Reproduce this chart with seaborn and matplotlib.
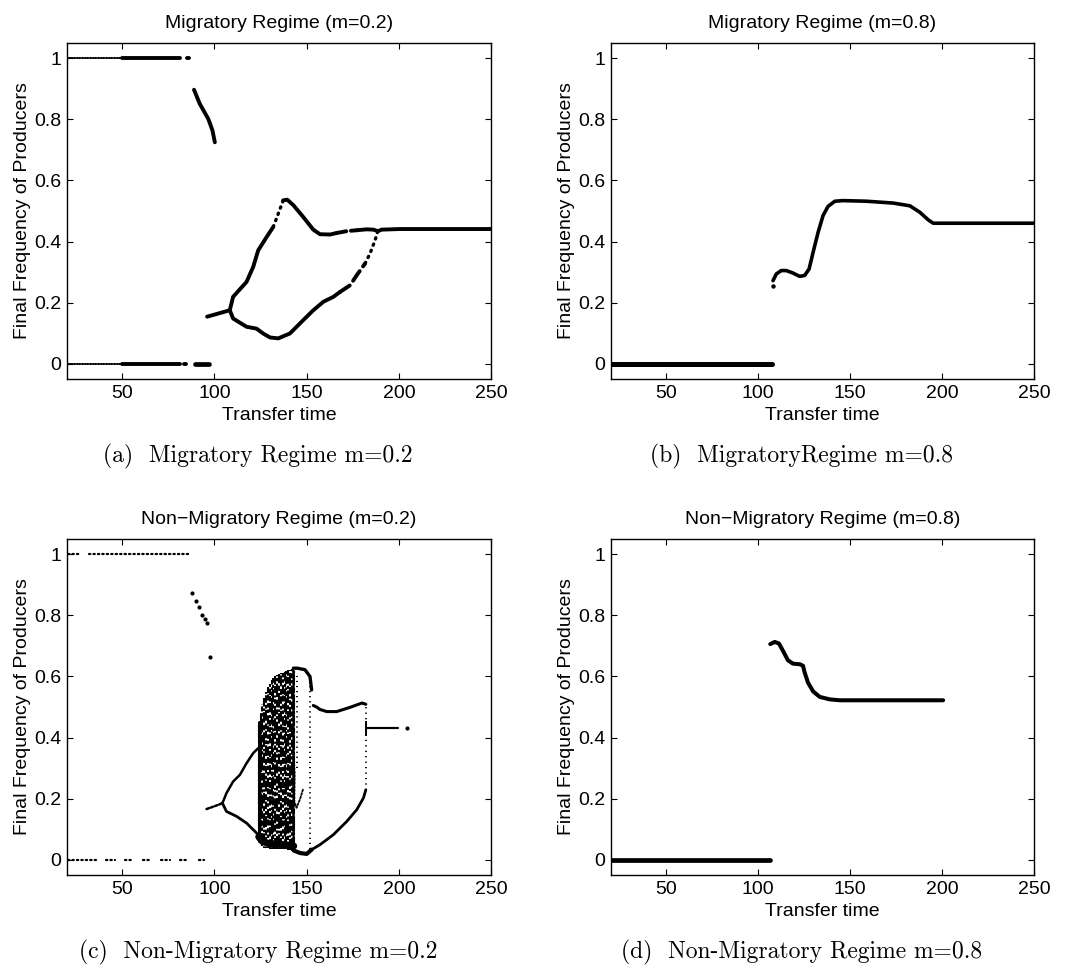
import matplotlib
matplotlib.use("Agg")
import matplotlib.pyplot as plt
import seaborn as sns

# ---------------- (a) Migratory regime, m = 0.2 ----------------
a_one_thin_x = [20, 50]
a_one_x = [50, 81.2]
a_one_tail_x = [85.2, 86.2]
a_zero_thin_x = [20, 50]
a_zero_x = [50, 81.2]
a_zero_dot_x = [83.6, 84.4]
a_zero_tail_x = [89.3, 96.9]
a_fall_x = [88.9, 92.0, 96.6, 98.9, 100.2]
a_fall_y = [0.897, 0.851, 0.802, 0.764, 0.725]
a_stem_x = [96.0, 108.3]
a_stem_y = [0.154, 0.175]
a_up1_x = [108.3, 110.1, 117.4, 121.0, 123.7, 128.3, 131.9]
a_up1_y = [0.175, 0.219, 0.268, 0.317, 0.371, 0.415, 0.448]
a_up2_x = [131.9, 134.6, 137.3]
a_up2_y = [0.448, 0.491, 0.535]
a_up3_x = [137.3, 139.5, 142.8, 148.2, 153.6, 157.2, 162.7, 166.3]
a_up3_y = [0.535, 0.537, 0.519, 0.480, 0.439, 0.424, 0.423, 0.428]
a_up4_x = [166.3, 171.7, 177.2]
a_up4_y = [0.428, 0.434, 0.437]
a_up5_x = [177.2, 182.6, 186.2, 188.6, 190.8, 200.7, 250.0]
a_up5_y = [0.437, 0.440, 0.439, 0.434, 0.439, 0.441, 0.441]
a_low1_x = [108.3, 110.1, 117.4, 122.8, 126.4, 130.1, 134.6, 140.9, 148.2,
            153.6, 159.1, 164.5, 168.1]
a_low1_y = [0.175, 0.148, 0.121, 0.115, 0.099, 0.086, 0.083, 0.099, 0.143,
            0.175, 0.203, 0.219, 0.235]
a_low2_x = [168.1, 173.6, 177.2, 181.7]
a_low2_y = [0.235, 0.257, 0.290, 0.328]
a_low3_x = [181.7, 184.4, 187.1, 188.6]
a_low3_y = [0.328, 0.361, 0.404, 0.434]

# ---------------- (b) Migratory regime, m = 0.8 ----------------
b_zero_x = [20, 107.3]
b_dot_x = [108.1]
b_dot_y = [0.254]
b_curve_x = [108.1, 109.9, 112.6, 115.3, 118.9, 122.6, 125.3, 127.7, 129.9,
             132.6, 135.3, 138.0, 141.7, 146.2, 158.9, 173.4, 182.5, 187.9,
             192.5, 195.2, 250.0]
b_curve_y = [0.272, 0.294, 0.305, 0.305, 0.297, 0.286, 0.289, 0.310, 0.365,
             0.430, 0.485, 0.515, 0.532, 0.534, 0.532, 0.526, 0.517, 0.496,
             0.471, 0.460, 0.460]

# ---------------- (c) Non-migratory regime, m = 0.2 ----------------
c_one_runs = [(20.5, 27.8), (31.9, 86.2)]
c_zero_runs = [(20.5, 35.9), (41.3, 45.8), (51.3, 55.8), (61.2, 65.8),
               (71.2, 75.7), (81.2, 85.7), (91.5, 94.2)]
c_fall_x = [87.9, 89.9, 91.7, 93.5, 94.6, 96.0, 97.8]
c_fall_y = [0.872, 0.848, 0.827, 0.802, 0.788, 0.774, 0.663]
c_stem_x = [95.7, 100.0, 104.3]
c_stem_y = [0.166, 0.175, 0.185]
c_up_x = [104.3, 106.5, 110.1, 113.8, 117.4, 121.0, 123.7]
c_up_y = [0.185, 0.218, 0.256, 0.278, 0.316, 0.349, 0.365]
c_low_x = [104.3, 106.5, 112.0, 117.4, 121.9, 123.7]
c_low_y = [0.185, 0.158, 0.142, 0.120, 0.093, 0.082]
# chaotic band: one column of states per transfer time
c_chaos_x = [124, 125, 126, 127, 128, 129, 130, 131, 132, 133, 134, 135, 136,
             137, 138, 139, 140, 141, 142, 143]
c_chaos_lo = [0.060, 0.050, 0.045, 0.040, 0.038, 0.037, 0.036, 0.036, 0.035,
              0.035, 0.035, 0.035, 0.034, 0.034, 0.034, 0.034, 0.033, 0.032,
              0.030, 0.030]
c_chaos_hi = [0.450, 0.480, 0.510, 0.530, 0.550, 0.565, 0.578, 0.587, 0.595,
              0.600, 0.605, 0.609, 0.612, 0.615, 0.617, 0.619, 0.620, 0.622,
              0.625, 0.626]
c_edge_x = [124.0, 124.0]
c_edge_y = [0.060, 0.450]
c_floor_x = [124.0, 126.0, 130.0, 136.0, 143.0]
c_floor_y = [0.075, 0.060, 0.052, 0.050, 0.045]
c_wall_x = [142.6, 142.6]
c_wall_y = [0.035, 0.625]
c_sparse_x = [145.0, 151.6]
c_sparse_lo = [0.300, 0.035]
c_sparse_hi = [0.600, 0.600]
c_cap_x = [142.8, 145.0, 149.1, 151.8, 152.7]
c_cap_y = [0.627, 0.627, 0.622, 0.600, 0.556]
c_hook_x = [142.8, 143.5, 143.3, 144.5, 146.5, 148.0]
c_hook_y = [0.360, 0.280, 0.190, 0.170, 0.200, 0.230]
c_base_x = [143.0, 146.4, 150.0, 152.7]
c_base_y = [0.030, 0.022, 0.019, 0.033]
c_hi_x = [153.6, 155.4, 157.2, 160.9, 166.3, 173.6, 180.0, 182.1]
c_hi_y = [0.505, 0.500, 0.492, 0.485, 0.485, 0.499, 0.513, 0.509]
c_lo_x = [152.7, 157.2, 164.5, 171.7, 177.2, 180.8, 182.1]
c_lo_y = [0.033, 0.049, 0.082, 0.125, 0.164, 0.202, 0.229]
c_jump_x = 182.1
c_jump_lo, c_jump_hi = 0.229, 0.509
c_tick_lo, c_tick_hi = 0.405, 0.455
c_end_x = [182.1, 199.8]
c_end_y = [0.431, 0.431]
c_last_x = [204.7]
c_last_y = [0.431]

# ---------------- (d) Non-migratory regime, m = 0.8 ----------------
d_zero_x = [20, 106.6]
d_curve_x = [106.6, 109.0, 111.3, 113.5, 116.2, 118.9, 122.6, 124.4, 125.3,
             127.1, 129.9, 133.5, 138.9, 144.4, 200.6]
d_curve_y = [0.706, 0.713, 0.708, 0.684, 0.653, 0.642, 0.640, 0.635, 0.613,
             0.580, 0.551, 0.533, 0.525, 0.522, 0.522]

titles = ["Migratory Regime (m=0.2)", "Migratory Regime (m=0.8)",
          "Non\u2212Migratory Regime (m=0.2)", "Non\u2212Migratory Regime (m=0.8)"]
captions = ["(a)  Migratory Regime m=0.2", "(b)  MigratoryRegime m=0.8",
            "(c)  Non-Migratory Regime m=0.2", "(d)  Non-Migratory Regime m=0.8"]
x_ticks = [50, 100, 150, 200, 250]
y_ticks = [0, 0.2, 0.4, 0.6, 0.8, 1]
y_tick_labels = ["0", "0.2", "0.4", "0.6", "0.8", "1"]
x_label = "Transfer time"
y_label = "Final Frequency of Producers"

sns.set_theme(style="ticks")
plt.rcParams["font.family"] = ["Liberation Sans", "DejaVu Sans"]
plt.rcParams["xtick.direction"] = "in"
plt.rcParams["ytick.direction"] = "in"

W, H = 1066, 968
fig = plt.figure(figsize=(W / 100, H / 100), dpi=100)
fig.patch.set_facecolor("white")

boxes = [(67, 43, 491, 379), (611, 43, 1034, 379),
         (67, 539, 491, 875), (611, 539, 1034, 875)]
axes = []
for (l, t, r, b) in boxes:
    axes.append(fig.add_axes([l / W, 1 - b / H, (r - l) / W, (b - t) / H]))

FAT = 2.8


def line(ax, xs, ys, lw=FAT, ls="-"):
    sns.lineplot(x=xs, y=ys, ax=ax, color="black", linewidth=lw, linestyle=ls,
                 sort=False, estimator=None, solid_capstyle="round",
                 dash_capstyle="round", legend=False)


def dots(ax, xs, ys, size=9):
    sns.scatterplot(x=xs, y=ys, ax=ax, color="black", s=size, linewidth=0,
                    legend=False)


# (a)
ax = axes[0]
line(ax, a_one_thin_x, [1, 1], lw=1.2, ls=(0, (1, 0.6)))
line(ax, a_one_x, [1, 1])
line(ax, a_one_tail_x, [1, 1])
line(ax, a_zero_thin_x, [0, 0], lw=1.2, ls=(0, (1, 0.6)))
line(ax, a_zero_x, [0, 0])
line(ax, a_zero_dot_x, [0, 0])
line(ax, a_zero_tail_x, [0, 0], lw=3.4)
line(ax, a_fall_x, a_fall_y)
line(ax, a_stem_x, a_stem_y)
line(ax, a_up1_x, a_up1_y)
line(ax, a_up2_x, a_up2_y, lw=2.4, ls=(0, (0.4, 1.6)))
line(ax, a_up3_x, a_up3_y)
line(ax, a_up4_x, a_up4_y, ls=(0, (2.5, 1.2)))
line(ax, a_up5_x, a_up5_y)
line(ax, a_low1_x, a_low1_y)
line(ax, a_low2_x, a_low2_y, ls=(0, (3, 1.5)))
line(ax, a_low3_x, a_low3_y, lw=2.4, ls=(0, (0.4, 1.6)))

# (b)
ax = axes[1]
line(ax, b_zero_x, [0, 0], lw=3.6)
dots(ax, b_dot_x, b_dot_y, size=10)
line(ax, b_curve_x, b_curve_y, lw=2.6)

# (c)
ax = axes[2]
for x0, x1 in c_one_runs:
    line(ax, [x0, x1], [1, 1], lw=1.6, ls=(0, (0.6, 1.4)))
for x0, x1 in c_zero_runs:
    line(ax, [x0, x1], [0, 0], lw=1.6, ls=(0, (0.6, 1.4)))
dots(ax, c_fall_x, c_fall_y, size=9)
line(ax, c_stem_x, c_stem_y, lw=1.8, ls=(0, (1, 0.8)))
line(ax, c_up_x, c_up_y, lw=1.8)
line(ax, c_low_x, c_low_y, lw=2.0)

# speckled columns: each column gets its own broken dash rhythm
speckle = [
    (0.0, (4.0, 0.8, 2.0, 1.1, 6.0, 0.7, 1.5, 1.0, 3.2, 0.6)),
    (1.7, (2.5, 1.2, 5.0, 0.6, 1.2, 0.9, 7.0, 1.0)),
    (0.6, (3.0, 0.9, 1.4, 1.3, 4.5, 0.7, 2.6, 0.5)),
    (2.9, (5.0, 1.0, 2.2, 0.8, 1.0, 1.2, 3.3, 0.7, 6.1, 0.9)),
    (1.1, (1.8, 1.0, 3.6, 0.7, 2.8, 1.3, 5.2, 0.6)),
    (3.4, (2.2, 0.7, 1.3, 1.4, 3.9, 0.9, 8.0, 0.8)),
    (0.3, (6.5, 1.1, 1.6, 0.8, 2.4, 1.0, 3.7, 1.2)),
    (4.2, (2.9, 0.6, 4.4, 1.1, 1.7, 0.9, 2.1, 1.3)),
]
col_styles = [speckle[(3 * i) % len(speckle)] for i in range(len(c_chaos_x))]
ax.vlines(c_chaos_x, c_chaos_lo, c_chaos_hi, colors="black", linewidth=1.5,
          linestyles=col_styles)
line(ax, c_edge_x, c_edge_y, lw=2.2)
line(ax, c_floor_x, c_floor_y, lw=5.0)
line(ax, c_wall_x, c_wall_y, lw=1.8, ls=(0, (3.0, 0.7, 1.2, 0.8)))
ax.vlines(c_sparse_x, c_sparse_lo, c_sparse_hi, colors="black",
          linewidth=1.4, linestyles=(0, (0.6, 2.0)))
line(ax, c_cap_x, c_cap_y, lw=2.4)
line(ax, c_hook_x, c_hook_y, lw=1.3, ls=(0, (1, 1)))
line(ax, c_base_x, c_base_y, lw=3.0)
line(ax, c_hi_x, c_hi_y, lw=2.2)
line(ax, c_lo_x, c_lo_y, lw=2.0)
ax.vlines([c_jump_x], [c_jump_lo], [c_jump_hi], colors="black", linewidth=1.4,
          linestyles=(0, (0.6, 2.2)))
ax.vlines([c_jump_x], [c_tick_lo], [c_tick_hi], colors="black", linewidth=1.4)
line(ax, c_end_x, c_end_y, lw=1.6, ls=(0, (1.2, 0.5)))
dots(ax, c_last_x, c_last_y, size=9)

# (d)
ax = axes[3]
line(ax, d_zero_x, [0, 0], lw=3.4)
line(ax, d_curve_x, d_curve_y, lw=2.9)

for i, ax in enumerate(axes):
    ax.set_xlim(20, 250)
    ax.set_ylim(-0.05, 1.05)
    ax.set_xticks(x_ticks)
    ax.set_xticklabels([str(v) for v in x_ticks])
    ax.set_yticks(y_ticks)
    ax.set_yticklabels(y_tick_labels)
    ax.tick_params(axis="both", which="both", direction="in", length=4,
                   width=0.8, top=True, right=True, labelsize=14, pad=4,
                   colors="black")
    for sp in ax.spines.values():
        sp.set_visible(True)
        sp.set_color("black")
        sp.set_linewidth(1.0)
    ax.set_facecolor("white")
    ax.grid(False)
    ax.set_title(titles[i], fontsize=14, pad=11, color="black")
    ax.set_xlabel(x_label, fontsize=14, labelpad=4, color="black")
    ax.set_ylabel(y_label, fontsize=14, labelpad=2, color="black")

    l, t, r, b = boxes[i]
    cx = (l + r) / 2 - 21
    cy = b + 77
    fig.text(cx / W, 1 - cy / H, captions[i], fontsize=17, family="cmr10",
             ha="center", va="center", color="black")

fig.savefig("out.png", dpi=100, facecolor="white")
